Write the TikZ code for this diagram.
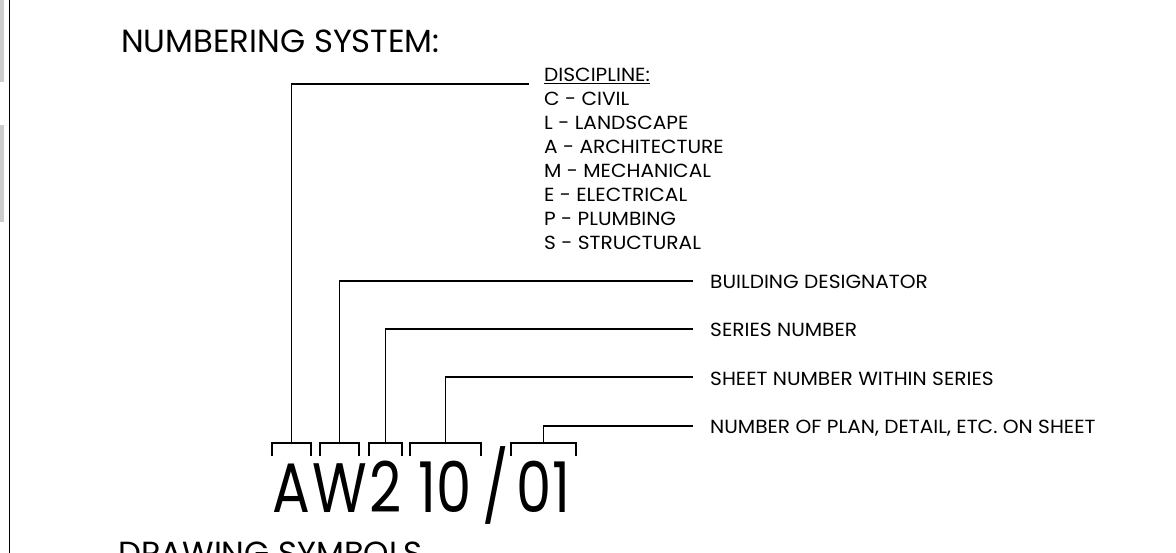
\documentclass[tikz,border=0pt]{standalone}
\usepackage{fontspec}
\setmainfont{Poppins}[FakeStretch=1.06]
\newfontfamily\ttlfont{Poppins}[FakeStretch=1.01]
\newfontfamily\bigfont{Poppins}[FakeStretch=0.8]
\begin{document}
\begin{tikzpicture}[x=1pt,y=-1pt,
  lead/.style={line width=1.8pt},
  lbl/.style={anchor=base west, inner sep=0pt, font=\fontsize{19}{19}\selectfont},
  ttl/.style={anchor=base west, inner sep=0pt, font=\ttlfont\fontsize{32}{32}\selectfont},
  big/.style={anchor=base, inner sep=0pt, font=\bigfont\fontsize{70}{70}\selectfont}]
\useasboundingbox (0,0) rectangle (1176,553);
\clip (0,0) rectangle (1176,553);
\fill[white] (0,0) rectangle (1176,553);
\fill[gray!40] (0,0) rectangle (4,82);
\fill[gray!40] (0,125) rectangle (4,222);
\draw[line width=1.5pt] (9.5,0) -- (9.5,553);

\node[ttl] (title) at (121,53) {NUMBERING SYSTEM:};
\node[ttl] (symbols) at (118,564) {DRAWING SYMBOLS};

\node[lbl] (disc) at (544,82) {\underline{DISCIPLINE:}};
\foreach \t [count=\i] in {C - CIVIL, L - LANDSCAPE, A - ARCHITECTURE, M - MECHANICAL, E - ELECTRICAL, P - PLUMBING, S - STRUCTURAL}
  \node[lbl] (d\i) at (544,82+24*\i) {\t};

\node[lbl] (bld) at (710,289) {BUILDING DESIGNATOR};
\node[lbl] (ser) at (710,337) {SERIES NUMBER};
\node[lbl] (sht) at (710,385) {SHEET NUMBER WITHIN SERIES};
\node[lbl] (num) at (710,433) {NUMBER OF PLAN, DETAIL, ETC. ON SHEET};

\coordinate (e1) at (529,84);
\coordinate (e2) at (693,281);
\coordinate (e3) at (693,329);
\coordinate (e4) at (693,377);
\coordinate (e5) at (693,426);

\foreach \n/\l/\r/\c in {1/272/311/291.5, 2/320/359/339.5, 3/369/402/385.5, 4/410/481/445.5, 5/511/576/543.5}{
  \coordinate (b\n) at (\c,443);
  \draw[lead] (\l,456) |- (b\n) -| (\r,456);
  \draw[lead] (b\n) |- (e\n);
}

\node[big] (gA) at (291.5,512) {A};
\node[big] (gW) at (339.5,512) {W};
\node[big] (g2) at (385.5,512) {2};
\node[big] (g10) at (445.5,512) {10};
\node[big] (gs) at (496,512) {/};
\node[big] (g01) at (543.5,512) {01};
\end{tikzpicture}
\end{document}
